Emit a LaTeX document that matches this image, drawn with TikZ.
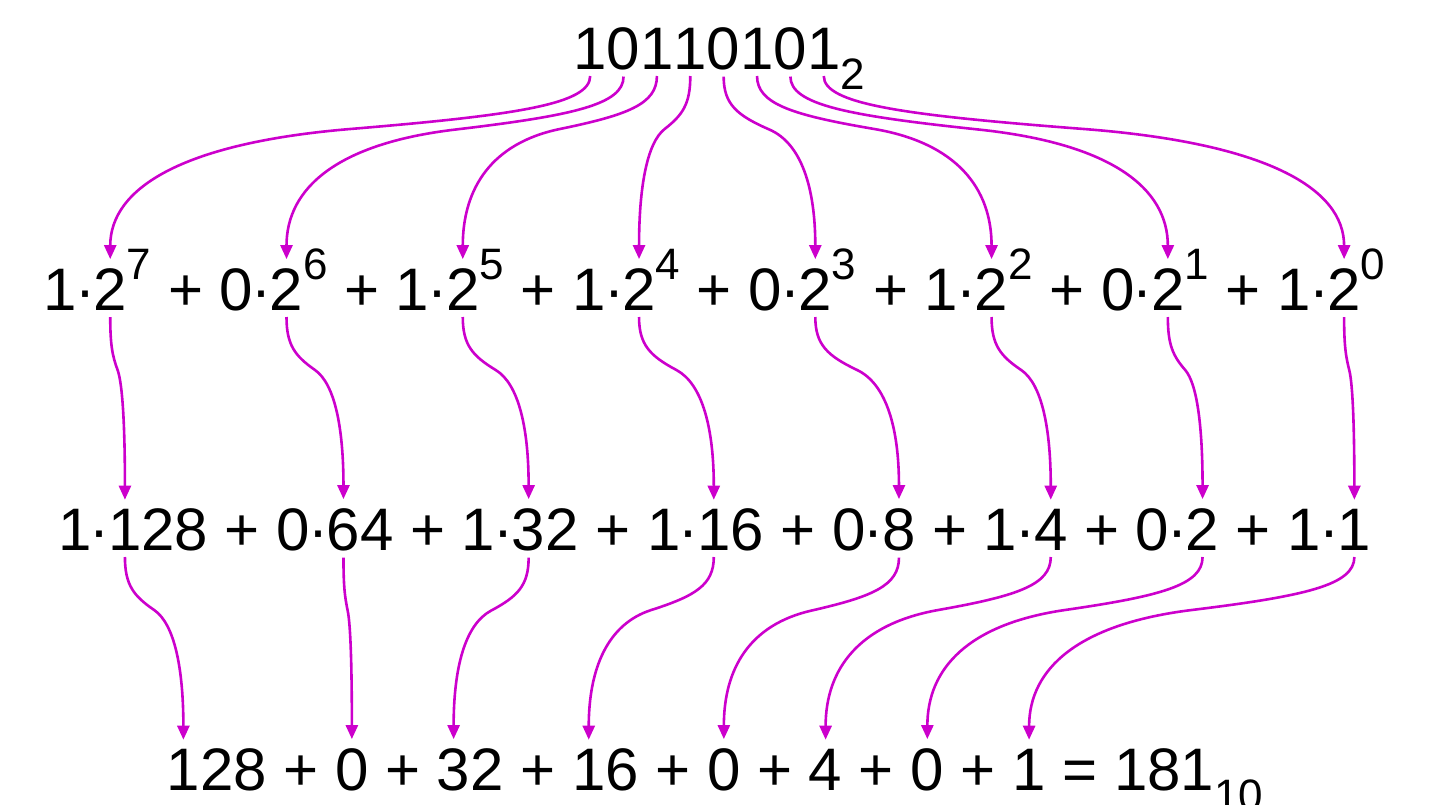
\documentclass[tikz,border=0pt]{standalone}
\usepackage{fontspec}
\setmainfont{Liberation Sans}
\usetikzlibrary{arrows.meta,calc}
\definecolor{mag}{RGB}{204,0,204}
\newcommand\supnum[1]{\raisebox{30.5pt}{\fontsize{44}{50}\selectfont #1}}
\newcommand\subnum[1]{\raisebox{-20pt}{\fontsize{44}{50}\selectfont #1}}
\newcommand\plusop{\ +\ \null}
\newcommand\mdot{\makebox[0.278em]{·}}
\tikzset{
	txt/.style={inner sep=0pt,outer sep=0pt,anchor=base west,font=\fontsize{60}{72}\selectfont},
	arr/.style={draw=mag,line width=2.6pt,-{Triangle[width=12pt,length=14pt]},shorten <=7pt,shorten >=9pt,
		to path={let \p1=(\tikztostart), \p2=(\tikztotarget), \p3=({(\x1+\x2)/2},\y1-60pt) in
			.. controls (\x1,\y1-35pt) and ({\x3-0.35*(\x2-\x1)},\y3+14pt) .. (\p3)
			.. controls ({\x3+0.35*(\x2-\x1)},\y3-14pt) and (\x2,\y2+80pt) .. (\p2)}}
}
\begin{document}
\begin{tikzpicture}[x=1pt,y=-1pt]
						\useasboundingbox (0,0) rectangle (1449,804);

						% binary number
						\node [txt] (b7) at (573.5,69) {1};
						\node [txt] (b6) at (b7.base east) {0};
						\node [txt] (b5) at (b6.base east) {1};
						\node [txt] (b4) at (b5.base east) {1};
						\node [txt] (b3) at (b4.base east) {0};
						\node [txt] (b2) at (b3.base east) {1};
						\node [txt] (b1) at (b2.base east) {0};
						\node [txt] (b0) at (b1.base east) {1};
						\node [txt] (radix2) at (b0.base east) {\subnum{2}};

						% powers of two
						\node [txt] (c7) at (43.5,310) {1\mdot};
						\node [txt] (p7) at (c7.base east) {2};
						\node [txt] (c6) at (p7.base east) {\supnum{7}\plusop 0\mdot};
						\node [txt] (p6) at (c6.base east) {2};
						\node [txt] (c5) at (p6.base east) {\supnum{6}\plusop 1\mdot};
						\node [txt] (p5) at (c5.base east) {2};
						\node [txt] (c4) at (p5.base east) {\supnum{5}\plusop 1\mdot};
						\node [txt] (p4) at (c4.base east) {2};
						\node [txt] (c3) at (p4.base east) {\supnum{4}\plusop 0\mdot};
						\node [txt] (p3) at (c3.base east) {2};
						\node [txt] (c2) at (p3.base east) {\supnum{3}\plusop 1\mdot};
						\node [txt] (p2) at (c2.base east) {2};
						\node [txt] (c1) at (p2.base east) {\supnum{2}\plusop 0\mdot};
						\node [txt] (p1) at (c1.base east) {2};
						\node [txt] (c0) at (p1.base east) {\supnum{1}\plusop 1\mdot};
						\node [txt] (p0) at (c0.base east) {2};
						\node [txt] (e0) at (p0.base east) {\supnum{0}};

						% place values
						\node [txt] (k7) at (58.2,550) {1\mdot};
						\node [txt] (v7) at (k7.base east) {1};
						\node [txt] (k6) at (v7.base east) {28\plusop 0\mdot};
						\node [txt] (v6) at (k6.base east) {6};
						\node [txt] (k5) at (v6.base east) {4\plusop 1\mdot};
						\node [txt] (v5) at (k5.base east) {3};
						\node [txt] (k4) at (v5.base east) {2\plusop 1\mdot};
						\node [txt] (v4) at (k4.base east) {1};
						\node [txt] (k3) at (v4.base east) {6\plusop 0\mdot};
						\node [txt] (v3) at (k3.base east) {8};
						\node [txt] (k2) at (v3.base east) {\plusop 1\mdot};
						\node [txt] (v2) at (k2.base east) {4};
						\node [txt] (k1) at (v2.base east) {\plusop 0\mdot};
						\node [txt] (v1) at (k1.base east) {2};
						\node [txt] (k0) at (v1.base east) {\plusop 1\mdot};
						\node [txt] (v0) at (k0.base east) {1};

						% sum
						\node [txt] (s7) at (166.7,790) {1};
						\node [txt] (t7) at (s7.base east) {28\plusop};
						\node [txt] (s6) at (t7.base east) {0};
						\node [txt] (t6) at (s6.base east) {\plusop};
						\node [txt] (s5) at (t6.base east) {3};
						\node [txt] (t5) at (s5.base east) {2\plusop};
						\node [txt] (s4) at (t5.base east) {1};
						\node [txt] (t4) at (s4.base east) {6\plusop};
						\node [txt] (s3) at (t4.base east) {0};
						\node [txt] (t3) at (s3.base east) {\plusop};
						\node [txt] (s2) at (t3.base east) {4};
						\node [txt] (t2) at (s2.base east) {\plusop};
						\node [txt] (s1) at (t2.base east) {0};
						\node [txt] (t1) at (s1.base east) {\plusop};
						\node [txt] (s0) at (t1.base east) {1};
						\node [txt] (total) at (s0.base east) {\ =\ 181\subnum{10}};

						\foreach \k in {0,...,7} {
							\draw [arr] (b\k.south) to (p\k.north);
							\draw [arr] (p\k.south) to (v\k.north);
							\draw [arr] (v\k.south) to (s\k.north);
						}
					\end{tikzpicture}
\end{document}
